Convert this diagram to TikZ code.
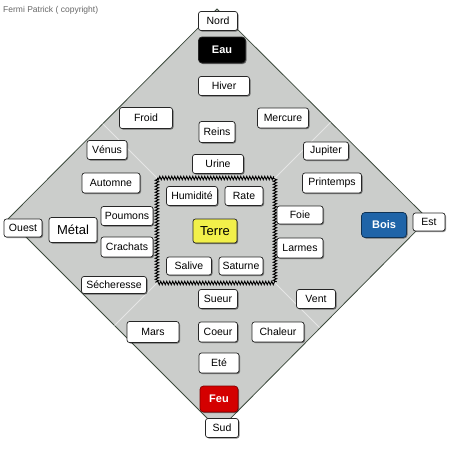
\documentclass[tikz,border=0pt]{standalone}
\usepackage{fontspec}
\setmainfont{Liberation Sans}
\usetikzlibrary{shadows,decorations.pathmorphing}
\definecolor{fondo}{HTML}{CBCDCB}
\definecolor{borde}{HTML}{3C4A3C}
\definecolor{azul}{HTML}{1F64A8}
\definecolor{rojo}{HTML}{D40000}
\definecolor{amarillo}{HTML}{F2F04A}
\tikzset{
  caja/.style={draw=black!85, fill=white, rounded corners=2.5pt, line width=0.7pt,
    inner sep=1pt, font=\fontsize{10.5}{12}\selectfont,
    drop shadow={shadow xshift=1pt, shadow yshift=-1pt, opacity=0.45, fill=black}},
  elemento/.style={caja, text=white, rounded corners=3.5pt, font=\bfseries\fontsize{11}{13}\selectfont}
}
\begin{document}
\begin{tikzpicture}[x=1pt, y=-1pt]
\useasboundingbox (0,0) rectangle (452,450);
% Coordenadas del rombo
\coordinate (T) at (217,9);
\coordinate (R) at (428,219);
\coordinate (B) at (219,430);
\coordinate (L) at (8,219);
\coordinate (C1) at (157,178);
\coordinate (C2) at (275,178);
\coordinate (C3) at (275,283);
\coordinate (C4) at (157,283);

% Rombo y cuadrado central
\draw[borde, fill=fondo, line width=0.8pt] (T) -- (R) -- (B) -- (L) -- cycle;
\draw[white, opacity=0.5, line width=0.8pt] (C1) -- (102.5,123.5);
\draw[white, opacity=0.5, line width=0.8pt] (C2) -- (330.5,122.5);
\draw[white, opacity=0.5, line width=0.8pt] (C3) -- (319.5,327.5);
\draw[white, opacity=0.5, line width=0.8pt] (C4) -- (114.5,325.5);
\draw[decorate, decoration={zigzag, segment length=3pt, amplitude=1.7pt}, line width=0.9pt] (C1) rectangle (C3);

% Puntos cardinales
\node[caja, minimum width=39pt, minimum height=19pt] (nord) at (218,21) {Nord};
\node[caja, minimum width=38pt, minimum height=18pt] (ouest) at (23,228) {Ouest};
\node[caja, minimum width=32pt, minimum height=18pt] (est) at (429,222) {Est};
\node[caja, minimum width=33pt, minimum height=19pt] (sud) at (222,428) {Sud};

% Elementos
\node[elemento, fill=black, minimum width=47pt, minimum height=26pt] (eau) at (222,50) {Eau};
\node[elemento, fill=azul, draw=azul!50!black, minimum width=45pt, minimum height=25pt] (bois) at (384,225) {Bois};
\node[elemento, fill=rojo, draw=rojo!60!black, minimum width=38pt, minimum height=26pt] (feu) at (219,399) {Feu};
\node[caja, fill=amarillo, minimum width=44pt, minimum height=24pt, font=\fontsize{13}{15}\selectfont] (terre) at (215,231) {Terre};
\node[caja, minimum width=48pt, minimum height=25pt, font=\fontsize{13}{15}\selectfont] (metal) at (73,230) {Métal};

% Norte
\node[caja, minimum width=51pt, minimum height=19pt] (hiver) at (224,86) {Hiver};
\node[caja, minimum width=53pt, minimum height=21pt] (froid) at (146,118) {Froid};
\node[caja, minimum width=51pt, minimum height=20pt] (mercure) at (283,118) {Mercure};
\node[caja, minimum width=36pt, minimum height=21pt] (reins) at (217,132) {Reins};
\node[caja, minimum width=51pt, minimum height=19pt] (urine) at (218,164) {Urine};

% Oeste
\node[caja, minimum width=40pt, minimum height=19pt] (venus) at (107,150) {Vénus};
\node[caja, minimum width=58pt, minimum height=20pt] (automne) at (111,183) {Automne};
\node[caja, minimum width=52pt, minimum height=19pt] (poumons) at (127,216) {Poumons};
\node[caja, minimum width=52pt, minimum height=20pt] (crachats) at (127,247) {Crachats};
\node[caja, minimum width=65pt, minimum height=17pt] (secheresse) at (114,285) {Sécheresse};

% Este
\node[caja, minimum width=45pt, minimum height=18pt] (jupiter) at (326,151) {Jupiter};
\node[caja, minimum width=59pt, minimum height=20pt] (printemps) at (332,183) {Printemps};
\node[caja, minimum width=46pt, minimum height=18pt] (foie) at (300,215) {Foie};
\node[caja, minimum width=46pt, minimum height=20pt] (larmes) at (300,248) {Larmes};
\node[caja, minimum width=39pt, minimum height=19pt] (vent) at (316,299) {Vent};

% Centro
\node[caja, minimum width=51pt, minimum height=19pt] (humidite) at (192,196) {Humidité};
\node[caja, minimum width=38pt, minimum height=19pt] (rate) at (244,196) {Rate};
\node[caja, minimum width=45pt, minimum height=18pt] (salive) at (189,266) {Salive};
\node[caja, minimum width=44pt, minimum height=18pt] (saturne) at (241,266) {Saturne};

% Sur
\node[caja, minimum width=39pt, minimum height=19pt] (sueur) at (218,299) {Sueur};
\node[caja, minimum width=52pt, minimum height=21pt] (mars) at (153,332) {Mars};
\node[caja, minimum width=39pt, minimum height=20pt] (coeur) at (218,332) {Coeur};
\node[caja, minimum width=52pt, minimum height=20pt] (chaleur) at (278,332) {Chaleur};
\node[caja, minimum width=40pt, minimum height=20pt] (ete) at (219,363) {Eté};

% Credito
\node[anchor=west, text=black!60, font=\fontsize{8.5}{10}\selectfont, inner sep=0pt] (credito) at (3,10) {Fermi Patrick ( copyright)};
\end{tikzpicture}
\end{document}
